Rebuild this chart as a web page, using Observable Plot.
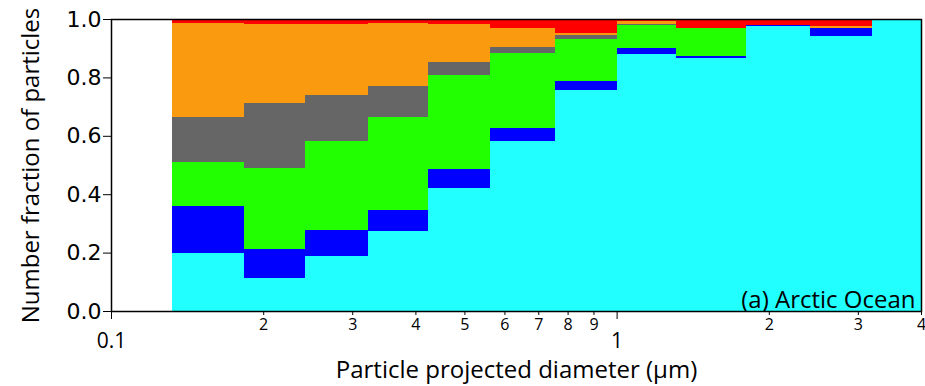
<!DOCTYPE html>
<html>
<head>
<meta charset="utf-8">
<script src="https://cdn.jsdelivr.net/npm/d3@7"></script>
<script src="https://cdn.jsdelivr.net/npm/@observablehq/plot@0.6"></script>
<style>
  html, body { margin: 0; padding: 0; background: #fff; }
  #chart { width: 925px; height: 386px; }
  svg { font-family: "Open Sans", sans-serif; }
</style>
</head>
<body>
<div id="chart"></div>
<script>
// Bin edges (µm)
const binEdges = [0.132, 0.183, 0.242, 0.323, 0.424, 0.562, 0.755, 1.0, 1.31, 1.80, 2.41, 3.2, 4.0];

// Number fraction per particle class in each bin (bottom to top)
const classNames = ["class1", "class2", "class3", "class4", "class5", "class6"];
const classColors = ["#22ffff", "#0000ff", "#22ff00", "#666666", "#fa9a0e", "#ff0000"];
const fracCyan   = [0.198, 0.112, 0.188, 0.273, 0.422, 0.581, 0.757, 0.879, 0.865, 0.977, 0.943, 1.000];
const fracBlue   = [0.160, 0.101, 0.088, 0.074, 0.065, 0.045, 0.029, 0.022, 0.009, 0.003, 0.027, 0.000];
const fracGreen  = [0.152, 0.276, 0.305, 0.317, 0.321, 0.258, 0.144, 0.078, 0.096, 0.000, 0.000, 0.000];
const fracGray   = [0.154, 0.222, 0.158, 0.105, 0.044, 0.020, 0.016, 0.005, 0.000, 0.000, 0.000, 0.000];
const fracOrange = [0.322, 0.272, 0.244, 0.217, 0.131, 0.064, 0.005, 0.009, 0.000, 0.000, 0.005, 0.000];
const fracRed    = [0.014, 0.017, 0.017, 0.014, 0.017, 0.032, 0.049, 0.007, 0.030, 0.020, 0.025, 0.000];

const yTicks = [0, 0.2, 0.4, 0.6, 0.8, 1.0];
const xMinorTicks = [0.2, 0.3, 0.4, 0.5, 0.6, 0.7, 0.8, 0.9, 2, 3, 4];
const xMinorLabels = ["2", "3", "4", "5", "6", "7", "8", "9", "2", "3", "4"];
const xMajorTicks = [0.1, 1];
const xMajorLabels = ["0.1", "1"];
const panelLabel = "(a) Arctic Ocean";

const fracs = [fracCyan, fracBlue, fracGreen, fracGray, fracOrange, fracRed];
const rects = [];
for (let i = 0; i < binEdges.length - 1; i++) {
  let cum = 0;
  fracs.forEach((f, k) => {
    const v = f[i];
    if (v > 0) rects.push({x1: binEdges[i], x2: binEdges[i + 1], y1: cum, y2: cum + v, cls: classNames[k]});
    cum += v;
  });
}

const chart = Plot.plot({
  width: 925,
  height: 386,
  marginLeft: 111,
  marginRight: 4,
  marginTop: 19,
  marginBottom: 75,
  style: {fontFamily: "'Open Sans', sans-serif", color: "black", background: "white"},
  x: {type: "log", domain: [0.1, 4]},
  y: {domain: [0, 1]},
  color: {domain: classNames, range: classColors},
  marks: [
    Plot.rect(rects, {x1: "x1", x2: "x2", y1: "y1", y2: "y2", fill: "cls", inset: 0, shapeRendering: "crispEdges"}),
    Plot.frame({stroke: "black", strokeWidth: 1.5}),
    Plot.axisY({ticks: yTicks, tickFormat: d3.format(".1f"), tickSize: 8, tickPadding: 2, fontSize: 22,
      fontFamily: "'DejaVu Sans', sans-serif", label: null}),
    Plot.axisY({ticks: [], label: "Number fraction of particles", labelAnchor: "center", labelArrow: "none", labelOffset: 90}),
    Plot.axisX({ticks: xMinorTicks, tickSize: 4, text: null, label: null}),
    Plot.axisX({ticks: xMajorTicks, tickSize: 8, text: null,
      label: "Particle projected diameter (µm)", labelAnchor: "center", labelArrow: "none", labelOffset: 66}),
    Plot.text(xMinorTicks, {x: d => d, text: (d, i) => xMinorLabels[i], frameAnchor: "bottom", dy: 18, fontSize: 16, fill: "black"}),
    Plot.text(xMajorTicks, {x: d => d, text: (d, i) => xMajorLabels[i], frameAnchor: "bottom", dy: 36, fontSize: 21, fill: "black"}),
    Plot.text([panelLabel], {frameAnchor: "bottom-right", text: d => d, dx: -6, dy: -4, fontSize: 24, fill: "black", textAnchor: "end"})
  ]
});
chart.querySelectorAll("[aria-label='y-axis label'] text, [aria-label='x-axis label'] text").forEach(t => t.setAttribute("font-size", 24));
document.getElementById("chart").appendChild(chart);
</script>
</body>
</html>
